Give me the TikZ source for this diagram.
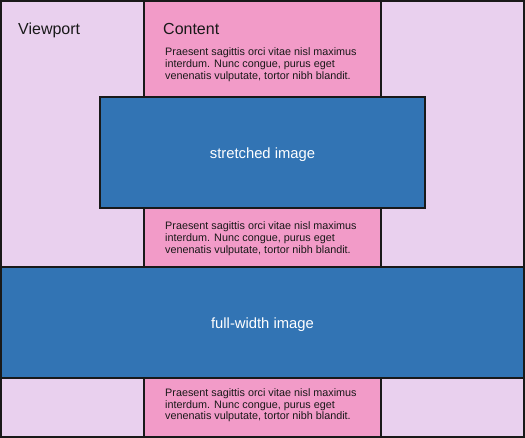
\documentclass[tikz,border=0pt]{standalone}
\usepackage{fontspec}
\setmainfont{Liberation Sans}
\definecolor{lav}{HTML}{E9D0EE}
\definecolor{pinkc}{HTML}{F29BC8}
\definecolor{blueimg}{HTML}{3274B4}
\begin{document}
\begin{tikzpicture}[x=1pt,y=-1pt,
  box/.style={draw=black!90, line width=1.8pt, inner sep=0pt, outer sep=0pt, anchor=north west},
  para/.style={inner sep=0pt, anchor=base west, align=left, font=\fontsize{10.8}{12}\selectfont, text=black!90},
  title/.style={inner sep=0pt, anchor=base west, font=\fontsize{16}{19}\selectfont, text=black!90},
  imglabel/.style={text=white, font=\fontsize{14.8}{17}\selectfont, yshift=-2.5pt}]
\useasboundingbox (0,0) rectangle (525,438);
\node[box, fill=lav, minimum width=523pt, minimum height=436pt] (viewport) at (1,1) {};
\node[box, fill=pinkc, minimum width=237pt, minimum height=436pt] (content) at (144,1) {};
\node[box, fill=blueimg, minimum width=325pt, minimum height=111pt] (stretched) at (100,97) {};
\node[box, fill=blueimg, minimum width=523pt, minimum height=111pt] (full) at (1,267) {};
\node[title] (vplabel) at (18,35) {Viewport};
\node[title] (ctlabel) at (163,35) {Content};
\node[para] (p1) at (165,80) {Praesent sagittis orci vitae nisl maximus\\interdum. Nunc congue, purus eget\\venenatis vulputate, tortor nibh blandit.};
\node[para] (p2) at (165,254) {Praesent sagittis orci vitae nisl maximus\\interdum. Nunc congue, purus eget\\venenatis vulputate, tortor nibh blandit.};
\node[para] (p3) at (165,420) {Praesent sagittis orci vitae nisl maximus\\interdum. Nunc congue, purus eget\\venenatis vulputate, tortor nibh blandit.};
\node[imglabel] (stlabel) at (stretched.center) {stretched image};
\node[imglabel] (fulabel) at (full.center) {full-width image};
\end{tikzpicture}
\end{document}
